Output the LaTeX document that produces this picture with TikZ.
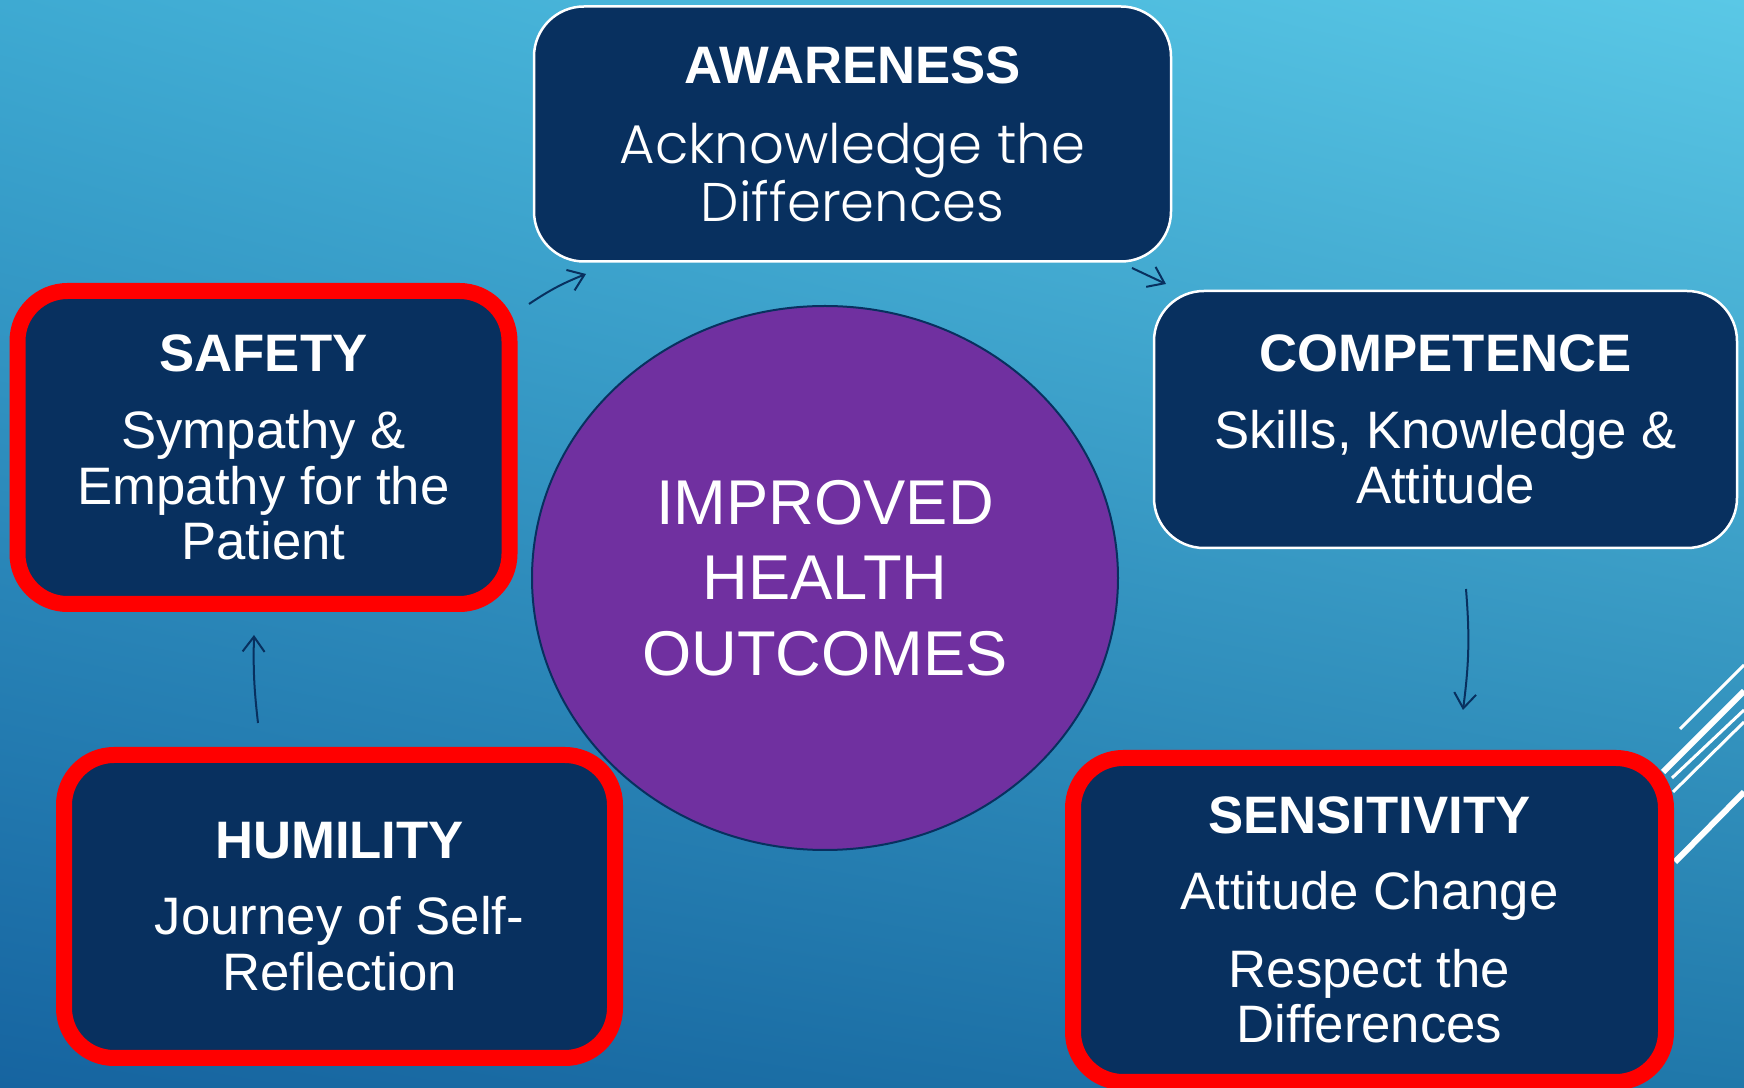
\documentclass[tikz,border=0pt]{standalone}
\usepackage{fontspec}
\setmainfont{Liberation Sans}
\newfontfamily\gothicfont{Poppins Light}
\usetikzlibrary{arrows.meta,shapes.geometric,shadings}

\definecolor{boxblue}{HTML}{08305F}
\definecolor{ringred}{HTML}{FF0000}
\definecolor{hubpurple}{HTML}{7030A0}
\definecolor{bgUL}{HTML}{3EAAD2}
\definecolor{bgUR}{HTML}{5AC8E6}
\definecolor{bgLL}{HTML}{1664A0}
\definecolor{bgLR}{HTML}{2078AA}

\begin{document}
\begin{tikzpicture}[x=0.1mm,y=-0.1mm,>={Straight Barb[length=1.5mm,width=2.2mm]},
  stage/.style={draw=white,line width=0.25mm,fill=boxblue,rounded corners=5mm,
    text=white,align=center,inner sep=0pt,font=\fontsize{15}{15.8}\selectfont},
  redstage/.style={stage,draw=ringred,line width=1.6mm},
  flow/.style={->,draw=boxblue,line width=0.2mm},
  streak/.style={white,line width=0.3mm},
  bigstreak/.style={white,line width=0.6mm}]

\useasboundingbox (0,0) rectangle (1744,1088);
\shade [upper left=bgUL,upper right=bgUR,lower left=bgLL,lower right=bgLR] (0,0) rectangle (1744,1088);

% streaks on the right edge
\draw [streak] (1680,729) -- (1744,665);
\draw [bigstreak] (1663,772) -- (1744,691);
\draw [streak] (1672,778) -- (1744,710);
\draw [streak] (1673,792) -- (1744,722);
\draw [bigstreak] (1675,862) -- (1744,792);

% centre
\node [ellipse,draw=boxblue,line width=0.2mm,fill=hubpurple,text=white,align=center,inner sep=0pt,
  minimum width=58.6mm,minimum height=54.4mm,font=\fontsize{18}{21.5}\selectfont] (hub) at (825,578)
  {IMPROVED\\HEALTH\\OUTCOMES};

% stages
\node [stage,minimum width=63.7mm,minimum height=25.5mm,font=\gothicfont\fontsize{15.5}{16.5}\selectfont] (awareness) at (852.5,134)
  {{\rmfamily\bfseries\fontsize{15}{16.5}\selectfont AWARENESS}\\[6.3pt]Acknowledge the\\Differences};
\node [stage,minimum width=58.3mm,minimum height=25.7mm] (competence) at (1445.5,419.5)
  {{\bfseries COMPETENCE}\\[6.1pt]Skills, Knowledge \&\\Attitude};
\node [redstage,minimum width=49.2mm,minimum height=31.3mm] (safety) at (263.5,447.5)
  {{\bfseries SAFETY}\\[6.1pt]Sympathy \&\\Empathy for the\\Patient};
\node [redstage,minimum width=55.1mm,minimum height=30.3mm] (humility) at (339.5,906.5)
  {{\bfseries HUMILITY}\\[5.8pt]Journey of Self-\\Reflection};
\node [redstage,minimum width=59.3mm,minimum height=32.4mm] (sensitivity) at (1369.5,920)
  {{\bfseries SENSITIVITY}\\[5.8pt]Attitude Change\\[6.4pt]Respect the\\Differences};

% arrow ends
\coordinate (sa0) at (529,304);
\coordinate (sa1) at (586,274);
\coordinate (ac0) at (1132,268);
\coordinate (ac1) at (1166,284);
\coordinate (cs0) at (1466,589);
\coordinate (cs1) at (1463,710);
\coordinate (hs0) at (258,723);
\coordinate (hs1) at (254,635);

\draw [flow] (sa0) to [bend left=6] (sa1);
\draw [flow] (ac0) to (ac1);
\draw [flow] (cs0) to [bend left=6] (cs1);
\draw [flow] (hs0) to [bend left=4] (hs1);

\end{tikzpicture}
\end{document}
